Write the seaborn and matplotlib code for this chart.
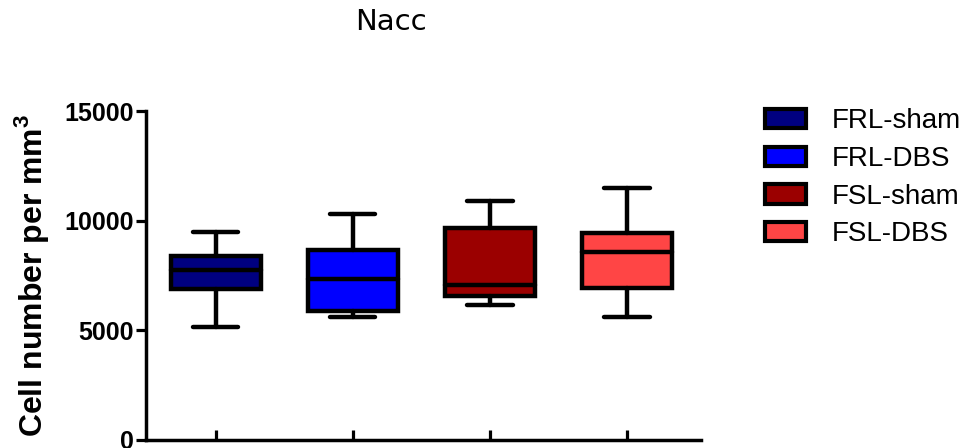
import matplotlib
matplotlib.use("Agg")
import matplotlib.pyplot as plt
import seaborn as sns
import pandas as pd
from matplotlib.patches import Patch

# Groups and their five-number summaries (min, Q1, median, Q3, max), cells per mm^3
groups = ["FRL-sham", "FRL-DBS", "FSL-sham", "FSL-DBS"]
frl_sham = [5150, 6900, 7750, 8400, 9470]
frl_dbs = [5600, 5900, 7320, 8670, 10290]
fsl_sham = [6170, 6560, 7080, 9670, 10880]
fsl_dbs = [5600, 6940, 8580, 9450, 11490]
colors = ["#000080", "#0000FF", "#9B0000", "#FF4545"]
y_ticks = [0, 5000, 10000, 15000]

sns.set_style("white")
plt.rcParams["font.family"] = ["Liberation Sans", "DejaVu Sans"]
plt.rcParams["mathtext.fontset"] = "custom"
plt.rcParams["mathtext.rm"] = "Liberation Sans"
plt.rcParams["mathtext.bf"] = "Liberation Sans:bold"
plt.rcParams["text.color"] = "black"
plt.rcParams["axes.labelcolor"] = "black"
plt.rcParams["xtick.color"] = "black"
plt.rcParams["ytick.color"] = "black"

series = [frl_sham, frl_dbs, fsl_sham, fsl_dbs]
df = pd.DataFrame({
    "group": [g for g, vals in zip(groups, series) for _ in vals],
    "cells": [v for vals in series for v in vals],
})

fig = plt.figure(figsize=(9.68, 4.48), dpi=100)
ax = fig.add_axes([0.1508, 0.0179, 0.5733, 0.7343])

lw = 3.2
sns.boxplot(
    data=df, x="group", y="cells", hue="group",
    order=groups, hue_order=groups, palette=colors, saturation=1,
    whis=(0, 100), width=0.66, linecolor="black", linewidth=lw,
    showfliers=False, legend=False, ax=ax,
)
for line in ax.lines:
    line.set_solid_capstyle("round")

ax.set_xlim(-0.51, 3.54)
ax.set_ylim(0, 15000)
ax.set_yticks(y_ticks)
ax.set_xticks(range(len(groups)))
ax.set_xticklabels([])
ax.set_xlabel("")

ax.tick_params(axis="y", left=True, direction="out", length=7, width=2.3,
               labelsize=18, pad=2, colors="black")
ax.tick_params(axis="x", bottom=True, direction="in", length=7, width=2.3,
               colors="black")
for t in ax.get_yticklabels():
    t.set_fontweight("bold")

for side in ("top", "right"):
    ax.spines[side].set_visible(False)
for side in ("left", "bottom"):
    ax.spines[side].set_linewidth(2.5)
    ax.spines[side].set_color("black")

ax.set_ylabel(r"Cell number per mm$^{\mathbf{3}}$", fontsize=23, fontweight="bold",
              color="black")
ax.yaxis.set_label_coords(-0.171, 0.5)

fig.text(391 / 968, 1 - 22 / 448, "Nacc", ha="center", va="center",
         fontsize=21, family="DejaVu Sans", color="black")

handles = [Patch(facecolor=c, edgecolor="black", linewidth=3, joinstyle="round")
           for c in colors]
fig.legend(handles, groups, loc="upper left", bbox_to_anchor=(0.79, 0.758),
           frameon=False, fontsize=20, handlelength=1.5, handleheight=0.7,
           handletextpad=0.9, labelspacing=0.42, borderpad=0, borderaxespad=0,
           labelcolor="black")

fig.savefig("out.png", dpi=100)
